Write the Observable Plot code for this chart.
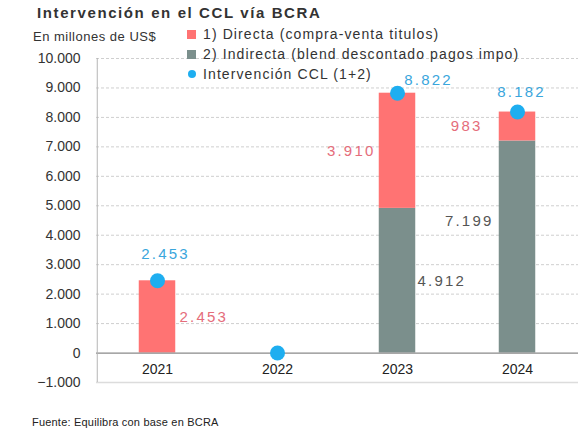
<!DOCTYPE html>
<html>
<head>
<meta charset="utf-8">
<script src="https://cdn.jsdelivr.net/npm/d3@7"></script>
<script src="https://cdn.jsdelivr.net/npm/@observablehq/plot@0.6"></script>
<style>
  body { margin: 0; background: #fff; }
  #wrap { position: relative; width: 585px; height: 441px; font-family: "Liberation Sans", Arial, sans-serif; color: #333; overflow: hidden; }
  #wrap svg { position: absolute; left: 0; top: 0; }
  .title { position: absolute; left: 37px; top: 4px; font-size: 15px; font-weight: bold; letter-spacing: 1.6px; color: #333; white-space: nowrap; }
  .subtitle { position: absolute; left: 33px; top: 29px; font-size: 13px; letter-spacing: 0.5px; color: #333; white-space: nowrap; }
  .legend { position: absolute; left: 187px; top: 24px; font-size: 14px; letter-spacing: 1.1px; color: #333; z-index: 2; }
  .legend .row { height: 20px; line-height: 18px; display: flex; align-items: center; white-space: nowrap; }
  .legend .sw { display: inline-block; width: 9px; height: 9px; margin-right: 7px; }
  .legend .dotsw { display: inline-block; width: 8px; height: 8px; border-radius: 50%; margin-right: 7px; margin-left: 1px; }
  .source { position: absolute; left: 32px; top: 416px; font-size: 11px; letter-spacing: 0.2px; color: #222; white-space: nowrap; }
  g[font-size="15"] { letter-spacing: 2.2px; }
</style>
</head>
<body>
<div id="wrap">
  <div class="title">Intervención en el CCL vía BCRA</div>
  <div class="subtitle">En millones de US$</div>
  <div class="legend" id="legend"></div>
  <div class="source">Fuente: Equilibra con base en BCRA</div>
</div>
<script>
// ---- Data ----
const years = ["2021", "2022", "2023", "2024"];
const directa = [2453, 0, 3910, 983];      // 1) Directa (compra-venta titulos)
const indirecta = [0, 0, 4912, 7199];      // 2) Indirecta (blend descontado pagos impo)
const total = [2453, 0, 8822, 8182];       // Intervención CCL (1+2)
const yTicks = [-1000, 0, 1000, 2000, 3000, 4000, 5000, 6000, 7000, 8000, 9000, 10000];
const seriesNames = ["1) Directa (compra-venta titulos)", "2) Indirecta (blend descontado pagos impo)", "Intervención CCL (1+2)"];

// ---- Styling ----
const colDirecta = "#ff7373";
const colIndirecta = "#7b8f8c";
const colDot = "#1eaef0";
const colDirLabel = "#e56d7b";
const colTotLabel = "#3aa6dc";
const colIndLabel = "#555555";

const fmt = d => d3.format(",")(d).replace(/,/g, ".");

// stacked rows: Indirecta at bottom, Directa on top
const rows = [];
years.forEach((y, i) => {
  rows.push({year: y, serie: "Indirecta", value: indirecta[i]});
  rows.push({year: y, serie: "Directa", value: directa[i]});
});
const totals = years.map((y, i) => ({year: y, value: total[i]}));

// label placement (layout only)
const dirLayout = {"2021": {dx: 22, dy: 0, anchor: "start"}, "2023": {dx: -22, dy: 0, anchor: "end"}, "2024": {dx: -35, dy: 0, anchor: "end"}};
const indLayout = {"2023": {dx: 20, dy: 0, anchor: "start"}, "2024": {dx: -24, dy: -26, anchor: "end"}};
const totLayout = {"2021": {dx: 8, dy: -27}, "2023": {dx: 31, dy: -13}, "2024": {dx: 4, dy: -20}};

const labelMarks = [];
years.forEach((y, i) => {
  if (directa[i] > 0 && dirLayout[y]) {
    const L = dirLayout[y];
    labelMarks.push(Plot.text([{year: y, v: indirecta[i] + directa[i] / 2, t: directa[i]}],
      {x: "year", y: "v", text: d => fmt(d.t), dx: L.dx, dy: L.dy, textAnchor: L.anchor, fill: colDirLabel, fontSize: 15}));
  }
  if (indirecta[i] > 0 && indLayout[y]) {
    const L = indLayout[y];
    labelMarks.push(Plot.text([{year: y, v: indirecta[i] / 2, t: indirecta[i]}],
      {x: "year", y: "v", text: d => fmt(d.t), dx: L.dx, dy: L.dy, textAnchor: L.anchor, fill: colIndLabel, fontSize: 15}));
  }
  if (total[i] > 0 && totLayout[y]) {
    const L = totLayout[y];
    labelMarks.push(Plot.text([{year: y, v: total[i]}],
      {x: "year", y: "v", text: d => fmt(d.v), dx: L.dx, dy: L.dy, textAnchor: "middle", fill: colTotLabel, fontSize: 15}));
  }
});

const chart = Plot.plot({
  width: 585,
  height: 441,
  marginTop: 58,
  marginBottom: 59,
  marginLeft: 96,
  marginRight: 7,
  style: {fontFamily: "'Liberation Sans', Arial, sans-serif", background: "transparent", overflow: "visible"},
  x: {domain: years, padding: 0, axis: null},
  y: {domain: [-1000, 10000], axis: null},
  color: {domain: ["Directa", "Indirecta"], range: [colDirecta, colIndirecta]},
  marks: [
    Plot.ruleY(yTicks.filter(d => d > 0), {stroke: "#cfcfcf", strokeDasharray: "3,2"}),
    Plot.ruleY([-1000], {stroke: "#dcdcdc", strokeWidth: 1.5}),
    Plot.axisY({ticks: yTicks, tickSize: 0, tickPadding: 16, tickFormat: fmt, fontSize: 14, fill: "#333", label: null}),
    Plot.barY(rows, {x: "year", y: "value", fill: "serie", order: ["Indirecta", "Directa"], insetLeft: 41.75, insetRight: 41.75}),
    Plot.ruleY([0], {stroke: "#8a8a8a", strokeWidth: 1.2}),
    Plot.ruleX([years[0]], {x: () => years[0], dx: -60.25, stroke: "#b5b5b5"}),
    Plot.text(years, {x: d => d, frameAnchor: "bottom", dy: -9, fontSize: 14, fill: "#222"}),
    Plot.dot(totals, {x: "year", y: "value", r: 7.5, fill: colDot, stroke: "none"}),
    ...labelMarks
  ]
});
document.getElementById("wrap").appendChild(chart);

// legend
const lg = document.getElementById("legend");
const swatches = [
  `<span class="sw" style="background:${colDirecta}"></span>`,
  `<span class="sw" style="background:${colIndirecta}"></span>`,
  `<span class="dotsw" style="background:${colDot}"></span>`
];
seriesNames.forEach((n, i) => {
  const r = document.createElement("div");
  r.className = "row";
  r.innerHTML = swatches[i] + `<span>${n}</span>`;
  lg.appendChild(r);
});
</script>
</body>
</html>
